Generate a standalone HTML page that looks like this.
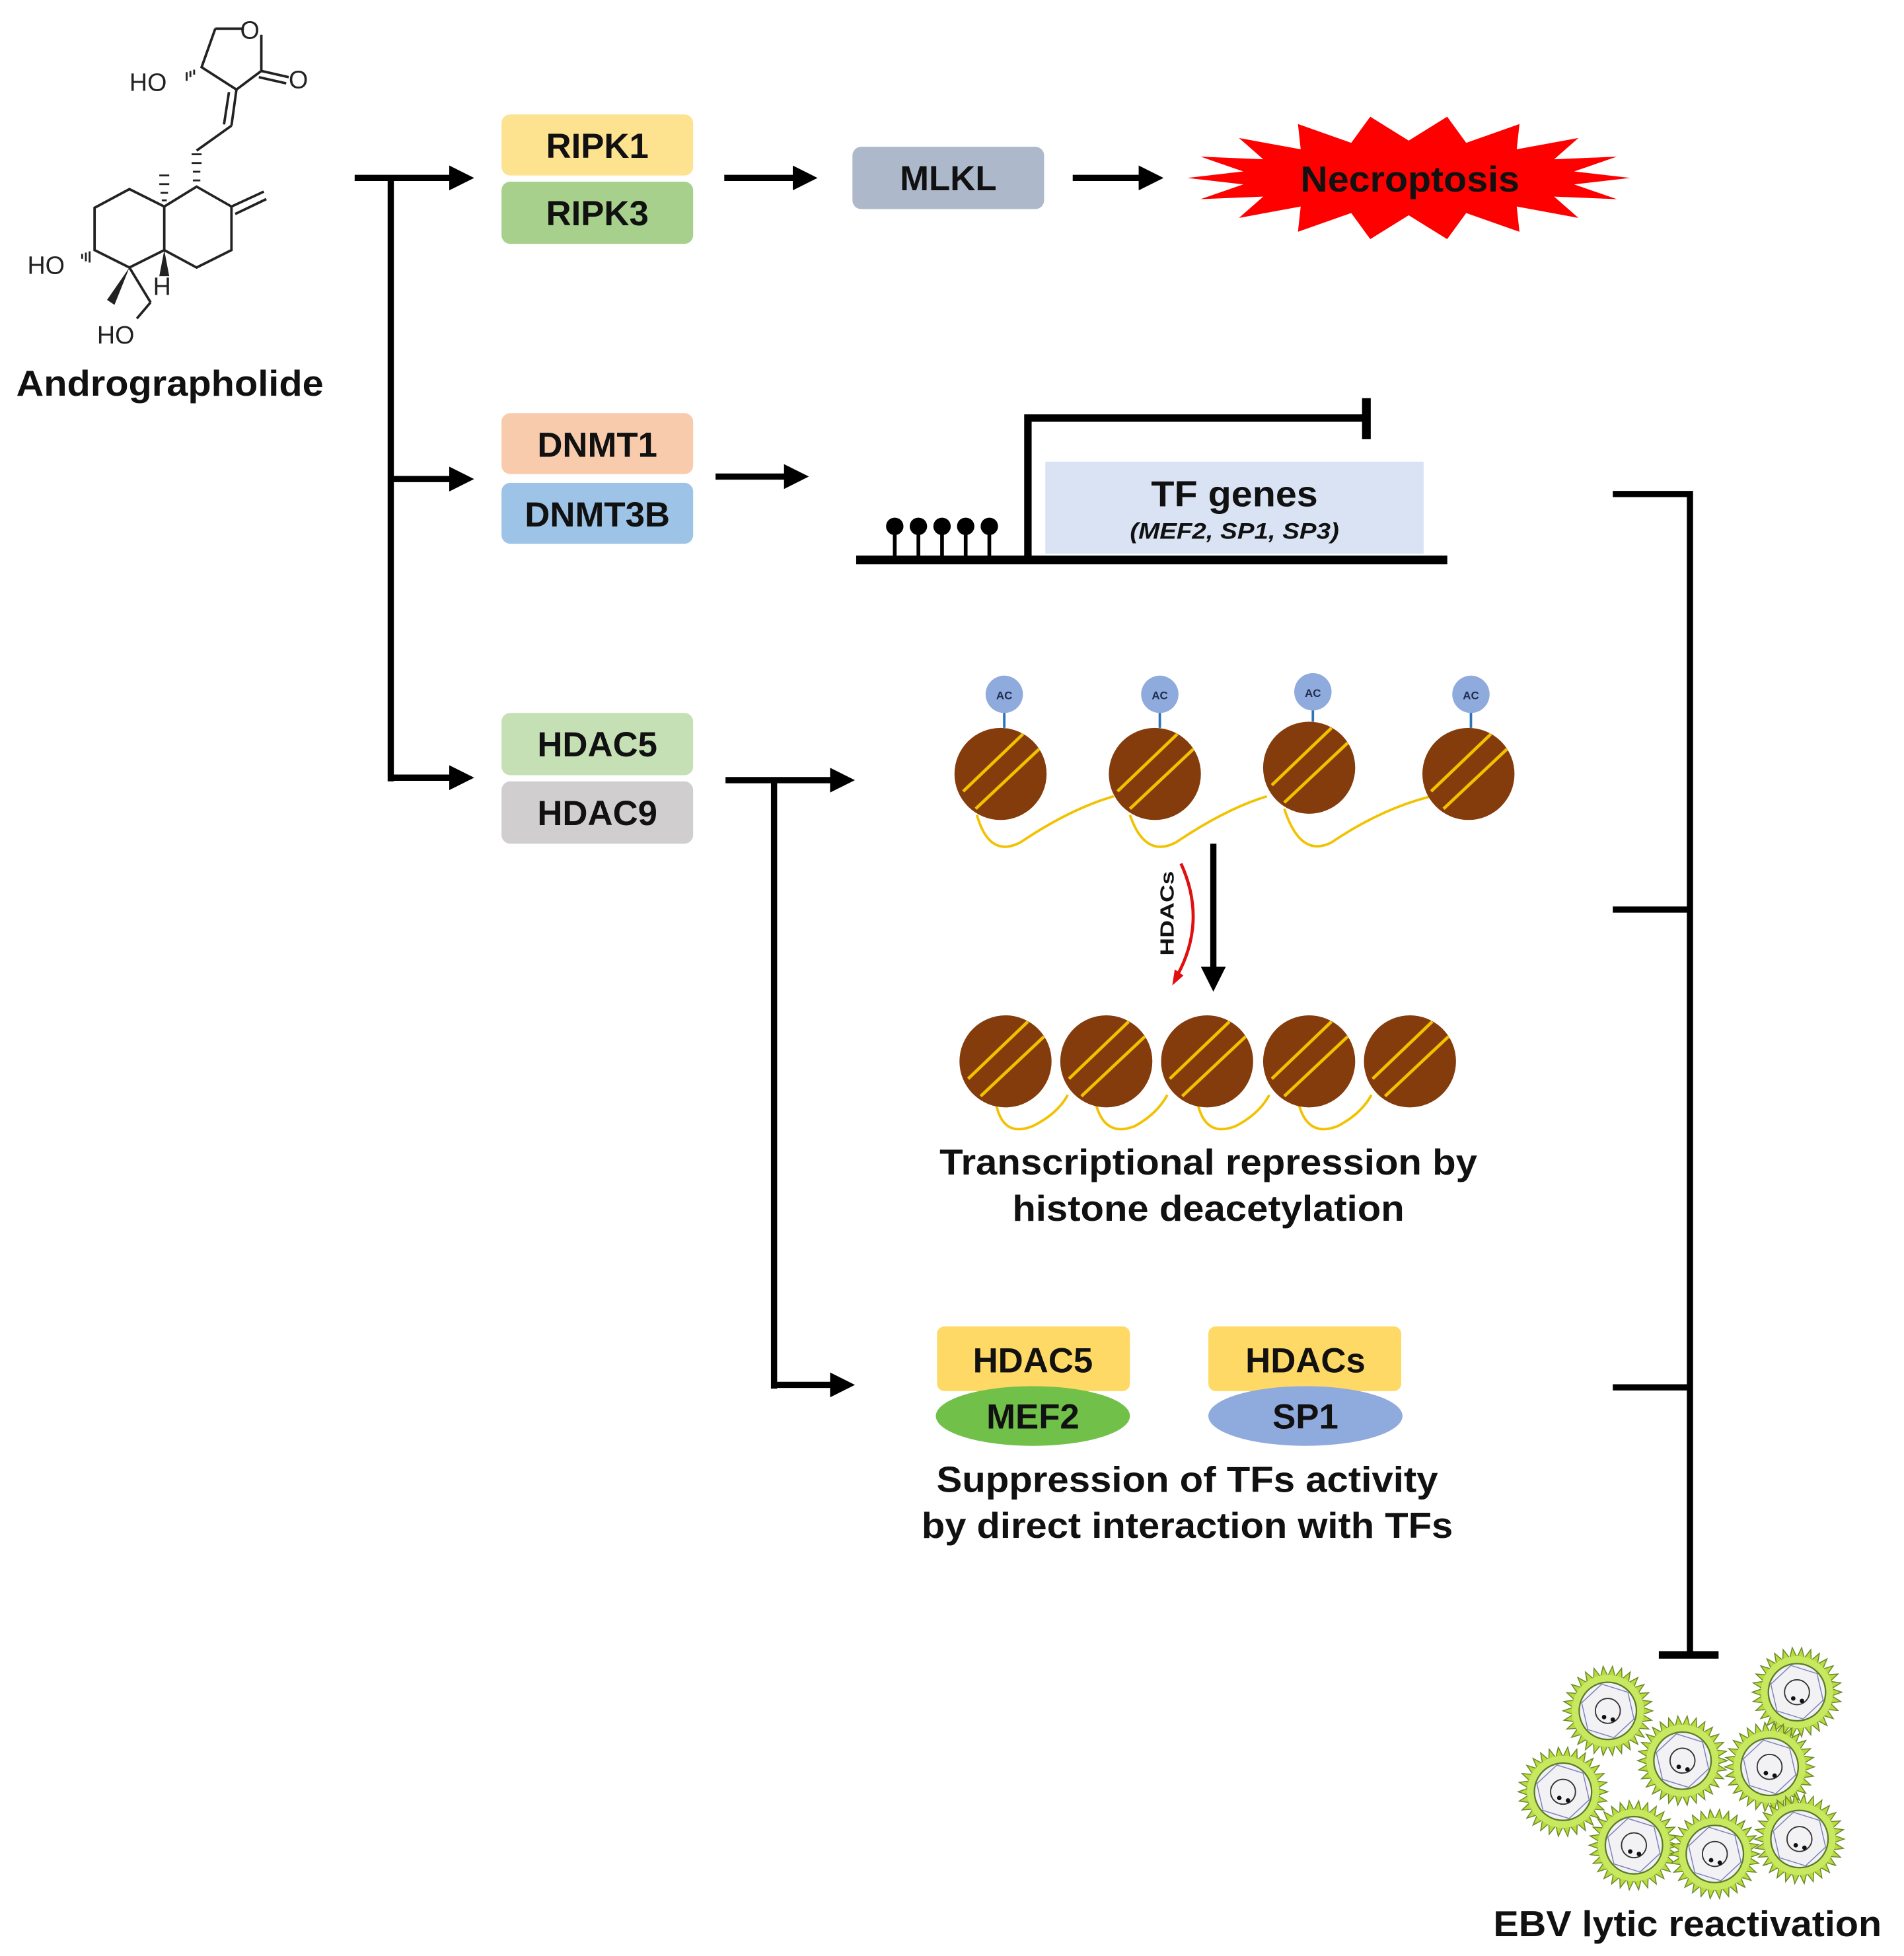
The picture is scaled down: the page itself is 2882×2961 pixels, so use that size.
<!DOCTYPE html>
<html><head><meta charset="utf-8"><style>
html,body{margin:0;padding:0;background:#fff;}
svg{display:block;}
text{font-family:"Liberation Sans",Arial,sans-serif;}
</style></head><body>
<svg id="s" width="2882" height="2961" viewBox="0 0 1530 1572" preserveAspectRatio="none" xmlns="http://www.w3.org/2000/svg">
<defs>
<marker id="ah" markerWidth="4" markerHeight="4" refX="2.2" refY="2" orient="auto" markerUnits="strokeWidth"><path d="M0,0 L4,2 L0,4 z" fill="#000"/></marker>
</defs>
<rect width="1530" height="1572" fill="#fff"/>

<!-- molecule -->
<g stroke="#222" stroke-width="2" fill="none">
<polyline points="173,23 196,23"/>
<line x1="210" y1="28" x2="210" y2="57"/>
<polyline points="173,23 162,54 190,72 210,57"/>
<line x1="210" y1="57" x2="232" y2="62"/><line x1="208" y1="62" x2="230" y2="67"/>
<line x1="190" y1="72" x2="186" y2="101"/><line x1="184" y1="74" x2="180" y2="100"/>
<line x1="186" y1="101" x2="158" y2="121"/>
<polygon points="76,167 104,152 132,166 132,201 104,215 76,201"/>
<polyline points="132,166 158,150 186,166 186,201 158,215 132,201"/>
<line x1="186" y1="166" x2="212" y2="154"/><line x1="189" y1="172" x2="214" y2="160"/>
<line x1="104" y1="215" x2="121" y2="243"/><line x1="121" y1="243" x2="110" y2="256"/>
</g>
<g stroke="#222" stroke-width="1.5">
<line x1="154" y1="124" x2="162" y2="124"/><line x1="154" y1="131" x2="162" y2="131"/><line x1="155" y1="138" x2="161" y2="138"/><line x1="155" y1="145" x2="161" y2="145"/>
<line x1="128" y1="141" x2="136" y2="141"/><line x1="128" y1="148" x2="136" y2="148"/><line x1="129" y1="155" x2="135" y2="155"/><line x1="130" y1="161" x2="134" y2="161"/>
<line x1="66" y1="204" x2="66" y2="208"/><line x1="69" y1="203" x2="69" y2="210"/><line x1="72" y1="202" x2="72" y2="211"/>
<line x1="153" y1="57" x2="153" y2="62"/><line x1="150" y1="58" x2="150" y2="65"/><line x1="156" y1="56" x2="156" y2="60"/>
</g>
<polygon points="104,215 86,241 92,245" fill="#222"/>
<polygon points="132,201 128,222 136,222" fill="#222"/>
<g font-size="20" fill="#222">
<text x="104" y="73">HO</text>
<text x="22" y="220">HO</text>
<text x="78" y="276">HO</text>
<text x="123" y="237">H</text>
<text x="193" y="31">O</text>
<text x="232" y="71">O</text>
</g>
<text x="13" y="318" font-size="29" font-weight="bold" fill="#111" textLength="247" lengthAdjust="spacingAndGlyphs">Andrographolide</text>

<!-- main connectors -->
<g stroke="#000" stroke-width="5" fill="none">
<line x1="285" y1="143" x2="372" y2="143" marker-end="url(#ah)"/>
<line x1="314" y1="141" x2="314" y2="628"/>
<line x1="312" y1="385" x2="372" y2="385" marker-end="url(#ah)"/>
<line x1="312" y1="625" x2="372" y2="625" marker-end="url(#ah)"/>
<line x1="582" y1="143" x2="648" y2="143" marker-end="url(#ah)"/>
<line x1="862" y1="143" x2="926" y2="143" marker-end="url(#ah)"/>
<line x1="575" y1="383" x2="641" y2="383" marker-end="url(#ah)"/>
<line x1="583" y1="627" x2="678" y2="627" marker-end="url(#ah)"/>
<line x1="622" y1="625" x2="622" y2="1116"/>
<line x1="620" y1="1113" x2="678" y2="1113" marker-end="url(#ah)"/>
</g>

<!-- boxes -->
<g font-size="28" font-weight="bold" fill="#111" text-anchor="middle">
<rect x="403" y="92" width="154" height="49" rx="7" fill="#fde28f"/><text x="480" y="127">RIPK1</text>
<rect x="403" y="146" width="154" height="50" rx="7" fill="#a7d08c"/><text x="480" y="181">RIPK3</text>
<rect x="685" y="118" width="154" height="50" rx="7" fill="#adb9ca"/><text x="762" y="153">MLKL</text>
<rect x="403" y="332" width="154" height="49" rx="7" fill="#f8cbad"/><text x="480" y="367">DNMT1</text>
<rect x="403" y="388" width="154" height="49" rx="7" fill="#9dc3e6"/><text x="480" y="423">DNMT3B</text>
<rect x="403" y="573" width="154" height="50" rx="7" fill="#c5e0b4"/><text x="480" y="608">HDAC5</text>
<rect x="403" y="628" width="154" height="50" rx="7" fill="#d0cece"/><text x="480" y="663">HDAC9</text>
</g>

<!-- necroptosis star -->
<polygon id="star" fill="#ff0000"/>
<text x="1133" y="154" font-size="29" font-weight="bold" fill="#111" text-anchor="middle" textLength="176" lengthAdjust="spacingAndGlyphs">Necroptosis</text>

<!-- gene -->
<rect x="840" y="371" width="304" height="74" fill="#dae3f3"/>
<text x="992" y="407" font-size="29" font-weight="bold" fill="#111" text-anchor="middle" textLength="134" lengthAdjust="spacingAndGlyphs">TF genes</text>
<text x="992" y="433" font-size="18" font-weight="bold" font-style="italic" fill="#111" text-anchor="middle" textLength="168" lengthAdjust="spacingAndGlyphs">(MEF2, SP1, SP3)</text>
<g stroke="#000" fill="none">
<line x1="688" y1="450" x2="1163" y2="450" stroke-width="7"/>
<polyline points="826,450 826,336 1098,336" stroke-width="6"/>
<line x1="1098" y1="320" x2="1098" y2="353" stroke-width="7"/>
<g stroke-width="3"><line x1="719" y1="423" x2="719" y2="450"/><line x1="738" y1="423" x2="738" y2="450"/><line x1="757" y1="423" x2="757" y2="450"/><line x1="776" y1="423" x2="776" y2="450"/><line x1="795" y1="423" x2="795" y2="450"/></g>
</g>
<g fill="#000"><circle cx="719" cy="423" r="7"/><circle cx="738" cy="423" r="7"/><circle cx="757" cy="423" r="7"/><circle cx="776" cy="423" r="7"/><circle cx="795" cy="423" r="7"/></g>

<!-- top nucleosomes -->
<g stroke="#f2c200" stroke-width="2" fill="none">
<path d="M785,655 Q795,690 820,677 Q860,650 895,640"/>
<path d="M908,655 Q920,690 945,677 Q985,650 1018,640"/>
<path d="M1032,650 Q1045,690 1070,677 Q1110,650 1150,640"/>
</g>
<g stroke="#2e75b6" stroke-width="2"><line x1="807" y1="572" x2="807" y2="585"/><line x1="932" y1="572" x2="932" y2="585"/><line x1="1055" y1="570" x2="1055" y2="580"/><line x1="1182" y1="572" x2="1182" y2="585"/></g>
<g id="nucs1"></g>
<g fill="#8faadc"><circle cx="807" cy="558" r="15"/><circle cx="932" cy="558" r="15"/><circle cx="1055" cy="556" r="15"/><circle cx="1182" cy="558" r="15"/></g>
<g font-size="9" font-weight="bold" fill="#1f2d4d" text-anchor="middle"><text x="807" y="562">AC</text><text x="932" y="562">AC</text><text x="1055" y="560">AC</text><text x="1182" y="562">AC</text></g>

<!-- arrow down -->
<line x1="975" y1="678" x2="975" y2="788" stroke="#000" stroke-width="5" marker-end="url(#ah)"/>
<path d="M949,694 Q970,740 946,784" stroke="#e01010" stroke-width="2.5" fill="none"/>
<path d="M942,792 L944,779 L951,784 z" fill="#e01010"/>
<text transform="translate(943,768) rotate(-90)" font-size="15" font-weight="bold" fill="#111" textLength="68" lengthAdjust="spacingAndGlyphs">HDACs</text>

<!-- bottom nucleosomes -->
<g stroke="#f2c200" stroke-width="2" fill="none">
<path d="M800,885 Q805,915 830,905 Q850,895 858,880"/>
<path d="M880,885 Q887,915 912,905 Q930,895 938,880"/>
<path d="M962,885 Q968,915 993,905 Q1012,895 1020,880"/>
<path d="M1043,885 Q1050,915 1075,905 Q1094,895 1102,880"/>
</g>
<g id="nucs2"></g>

<g font-size="29" font-weight="bold" fill="#111" text-anchor="middle" lengthAdjust="spacingAndGlyphs">
<text x="971" y="944" textLength="432" lengthAdjust="spacingAndGlyphs">Transcriptional repression by</text>
<text x="971" y="981" textLength="315" lengthAdjust="spacingAndGlyphs">histone deacetylation</text>
<text x="954" y="1199" textLength="403" lengthAdjust="spacingAndGlyphs">Suppression of TFs activity</text>
<text x="954" y="1236" textLength="427" lengthAdjust="spacingAndGlyphs">by direct interaction with TFs</text>
</g>

<!-- TF complexes -->
<rect x="753" y="1066" width="155" height="52" rx="6" fill="#ffd966"/>
<ellipse cx="830" cy="1138" rx="78" ry="24" fill="#70c04a"/>
<rect x="971" y="1066" width="155" height="52" rx="6" fill="#ffd966"/>
<ellipse cx="1049" cy="1138" rx="78" ry="24" fill="#8faadc"/>
<g font-size="28" font-weight="bold" fill="#111" text-anchor="middle">
<text x="830" y="1103">HDAC5</text><text x="830" y="1148">MEF2</text>
<text x="1049" y="1103">HDACs</text><text x="1049" y="1148">SP1</text>
</g>

<!-- right bracket -->
<g stroke="#000" stroke-width="5" fill="none">
<polyline points="1296,397 1358,397 1358,1330"/>
<line x1="1296" y1="731" x2="1358" y2="731"/>
<line x1="1296" y1="1115" x2="1358" y2="1115"/>
<line x1="1333" y1="1330" x2="1381" y2="1330" stroke-width="6"/>
</g>

<g id="virus"></g>
<text x="1356" y="1556" font-size="29" font-weight="bold" fill="#111" text-anchor="middle" textLength="312" lengthAdjust="spacingAndGlyphs">EBV lytic reactivation</text>
</svg>
<script>
var NS="http://www.w3.org/2000/svg";
function el(t,a,p){var e=document.createElementNS(NS,t);for(var k in a)e.setAttribute(k,a[k]);p.appendChild(e);return e;}
var pts=[],n=18;
for(var i=0;i<n*2;i++){var a=Math.PI*i/n;var o=i%2==0;var rx=o?178:135,ry=o?50:30;pts.push((1132+rx*Math.cos(a)).toFixed(1)+","+(143+ry*Math.sin(a)).toFixed(1));}
document.getElementById("star").setAttribute("points",pts.join(" "));
function nuc(g,cx,cy){
 el("ellipse",{cx:cx,cy:cy,rx:37,ry:37,fill:"#843c0c"},g);
 el("line",{x1:cx-30,y1:cy+14,x2:cx+18,y2:cy-32,stroke:"#f2c200","stroke-width":2.5},g);
 el("line",{x1:cx-20,y1:cy+28,x2:cx+31,y2:cy-20,stroke:"#f2c200","stroke-width":2.5},g);
}
var g1=document.getElementById("nucs1");
[[804,622],[928,622],[1052,617],[1180,622]].forEach(function(c){nuc(g1,c[0],c[1]);});
var g2=document.getElementById("nucs2");
[808,889,970,1052,1133].forEach(function(x){nuc(g2,x,853);});
var gv=document.getElementById("virus");
[[1292,1375],[1444,1360],[1352,1415],[1422,1420],[1256,1440],[1313,1483],[1378,1490],[1446,1478]].forEach(function(c){
 var p=[],m=30;
 for(var i=0;i<m*2;i++){var a=Math.PI*i/m;var r=i%2==0?36:28;p.push((c[0]+r*Math.cos(a)).toFixed(1)+","+(c[1]+r*Math.sin(a)).toFixed(1));}
 el("polygon",{points:p.join(" "),fill:"#b8dc3c",stroke:"#6b8a2a","stroke-width":0.8},gv);
 el("circle",{cx:c[0],cy:c[1],r:29,fill:"#c8e860",stroke:"none"},gv);
 el("circle",{cx:c[0],cy:c[1],r:23,fill:"#f2f2f4",stroke:"#5a7a2a","stroke-width":1.2},gv);
 var h=[];for(var i=0;i<6;i++){var a=Math.PI/3*i+0.3;h.push((c[0]+22*Math.cos(a)).toFixed(1)+","+(c[1]+22*Math.sin(a)).toFixed(1));}
 el("polygon",{points:h.join(" "),fill:"none",stroke:"#8080c0","stroke-width":0.8},gv);
 el("circle",{cx:c[0],cy:c[1],r:10,fill:"none",stroke:"#333","stroke-width":1},gv);
 el("circle",{cx:c[0]-3,cy:c[1]+5,r:1.8,fill:"#111"},gv);
 el("circle",{cx:c[0]+4,cy:c[1]+7,r:1.8,fill:"#111"},gv);
});
</script>
</body></html>
